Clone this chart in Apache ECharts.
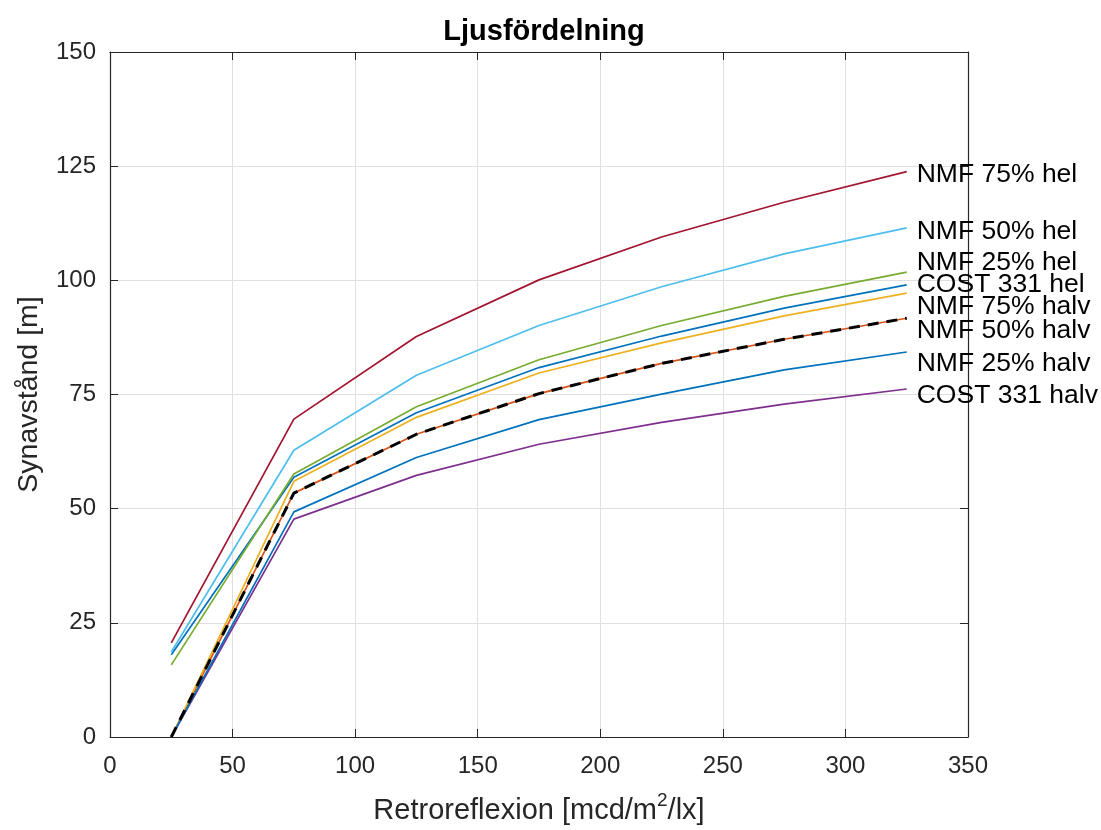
<!DOCTYPE html>
<html>
<head>
<meta charset="utf-8">
<script src="https://cdn.jsdelivr.net/npm/echarts@6/dist/echarts.min.js"></script>
<style>
html,body{margin:0;padding:0;background:#fff;}
#chart{width:1101px;height:830px;}
</style>
</head>
<body>
<div id="chart"></div>
<script>
var xValues = [25, 75, 125, 175, 225, 275, 325];
var xTicks = [0, 50, 100, 150, 200, 250, 300, 350];
var yTicks = [0, 25, 50, 75, 100, 125, 150];

var nmf75hel    = [20.6, 69.6, 87.7, 100.1, 109.5, 117.1, 123.8];
var nmf50hel    = [18.6, 62.8, 79.2, 90.1, 98.6, 105.8, 111.5];
var nmf25hel    = [15.8, 57.6, 72.3, 82.6, 90.1, 96.5, 101.8];
var cost331hel  = [18.0, 56.9, 71.0, 80.9, 87.8, 93.9, 99.0];
var nmf75halv   = [0, 56.0, 70.0, 79.7, 86.3, 92.2, 97.2];
var nmf50halv   = [0, 53.4, 66.3, 75.2, 81.8, 87.1, 91.7];
var nmf25halv   = [0, 49.3, 61.2, 69.5, 75.1, 80.4, 84.3];
var cost331halv = [0, 47.7, 57.3, 64.1, 68.9, 72.9, 76.2];
var dashedRef   = nmf50halv;

var seriesNames = ['COST 331 hel', 'NMF 50% halv', 'NMF 75% halv', 'COST 331 halv',
                   'NMF 25% hel', 'NMF 50% hel', 'NMF 75% hel', 'NMF 25% halv'];
var seriesData = [cost331hel, nmf50halv, nmf75halv, cost331halv, nmf25hel, nmf50hel, nmf75hel, nmf25halv];
var seriesColors = ['#0072BD', '#D95319', '#EDB120', '#7E2F8E', '#77AC30', '#4DBEEE', '#A2142F', '#0072BD'];
var labelDy = [0, 12, 14, 7, -9, 4, 3, 12];

var FONT = '"Liberation Sans", Arial, Helvetica, sans-serif';
var AX = '#262626';

function pairs(arr) {
  return xValues.map(function (x, i) { return [x, arr[i]]; });
}

var series = seriesNames.map(function (name, i) {
  return {
    name: name,
    type: 'line',
    data: pairs(seriesData[i]),
    symbol: 'none',
    lineStyle: { color: seriesColors[i], width: 1.7 },
    itemStyle: { color: seriesColors[i] },
    animation: false,
    z: 3,
    endLabel: {
      show: true,
      formatter: name,
      distance: 10,
      offset: [0, labelDy[i]],
      color: '#000',
      fontFamily: FONT,
      fontSize: 26.5
    }
  };
});
series.push({
  name: 'ref',
  type: 'line',
  data: pairs(dashedRef),
  symbol: 'none',
  lineStyle: { color: '#000', width: 3, type: [11, 8] },
  animation: false,
  z: 4
});

var chart = echarts.init(document.getElementById('chart'), null, { renderer: 'canvas' });
chart.setOption({
  backgroundColor: '#fff',
  animation: false,
  title: {
    text: 'Ljusfördelning',
    left: 539,
    textAlign: 'center',
    top: 12,
    textStyle: { fontFamily: FONT, fontWeight: 'bold', fontSize: 29, color: '#000' }
  },
  grid: { left: 110, right: 133, top: 52, bottom: 93, containLabel: false },
  xAxis: [{
    type: 'value', min: 0, max: 350, interval: 50,
    name: '{b|Retroreflexion [mcd/m}{sup|2}{b|/lx]}',
    nameLocation: 'middle', nameGap: 54,
    nameTextStyle: {
      rich: {
        b: { fontFamily: FONT, fontSize: 29, color: AX, lineHeight: 34, verticalAlign: 'bottom' },
        sup: { fontFamily: FONT, fontSize: 19, color: AX, lineHeight: 34, verticalAlign: 'top' }
      }
    },
    axisLine: { show: true, lineStyle: { color: AX, width: 1.2 } },
    axisTick: { show: true, inside: true, length: 8, lineStyle: { color: AX } },
    axisLabel: { color: AX, fontFamily: FONT, fontSize: 24, margin: 17 },
    splitLine: { show: true, lineStyle: { color: '#dfdfdf', width: 1 } }
  }, {
    type: 'value', min: 0, max: 350, interval: 50, position: 'top',
    axisLine: { show: true, onZero: false, lineStyle: { color: AX, width: 1.2 } },
    axisTick: { show: true, inside: true, length: 8, lineStyle: { color: AX } },
    axisLabel: { show: false },
    splitLine: { show: false }
  }],
  yAxis: [{
    type: 'value', min: 0, max: 150, interval: 25,
    name: 'Synavstånd [m]',
    nameLocation: 'middle', nameGap: 66,
    nameTextStyle: { fontFamily: FONT, fontSize: 28.5, color: AX },
    axisLine: { show: true, lineStyle: { color: AX, width: 1.2 } },
    axisTick: { show: true, inside: true, length: 8, lineStyle: { color: AX } },
    axisLabel: { color: AX, fontFamily: FONT, fontSize: 24, margin: 14 },
    splitLine: { show: true, lineStyle: { color: '#dfdfdf', width: 1 } }
  }, {
    type: 'value', min: 0, max: 150, interval: 25, position: 'right',
    axisLine: { show: true, onZero: false, lineStyle: { color: AX, width: 1.2 } },
    axisTick: { show: true, inside: true, length: 8, lineStyle: { color: AX } },
    axisLabel: { show: false },
    splitLine: { show: false }
  }],
  series: series
});
</script>
</body>
</html>
